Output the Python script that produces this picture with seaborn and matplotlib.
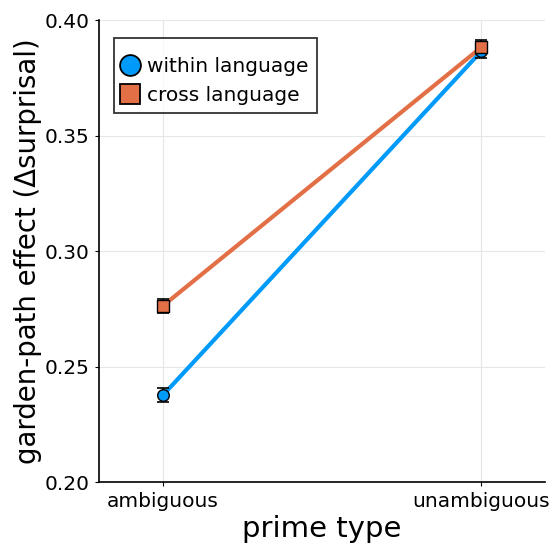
import matplotlib
matplotlib.use("Agg")
import matplotlib.pyplot as plt
from matplotlib.lines import Line2D
import seaborn as sns
import pandas as pd

# prime conditions and measured garden-path effects
prime_types = ["ambiguous", "unambiguous"]
within_language = [0.2375, 0.3865]
cross_language = [0.2762, 0.3882]
within_err = [0.0030, 0.0030]
cross_err = [0.0030, 0.0030]

series_names = ["within language", "cross language"]
colors = {"within language": "#009AFA", "cross language": "#E26F46"}
marker_shapes = {"within language": "o", "cross language": "s"}

rows = []
for name, vals, errs in [("within language", within_language, within_err),
                         ("cross language", cross_language, cross_err)]:
    for i, (p, v, e) in enumerate(zip(prime_types, vals, errs)):
        rows.append({"series": name, "prime": p, "pos": i + 1, "value": v, "err": e})
df = pd.DataFrame(rows)

sns.set_style("white")
plt.rcParams["font.family"] = ["DejaVu Sans"]
plt.rcParams["text.color"] = "black"
plt.rcParams["axes.labelcolor"] = "black"
plt.rcParams["xtick.color"] = "black"
plt.rcParams["ytick.color"] = "black"

fig = plt.figure(figsize=(5.53, 5.48), dpi=100)
ax = fig.add_axes([0.179, 0.1204, 0.8065, 0.843])

sns.lineplot(data=df, x="pos", y="value", hue="series", hue_order=series_names,
             palette=colors, linewidth=3, legend=False, ax=ax, zorder=2)

for name in series_names:
    sub = df[df["series"] == name]
    ax.errorbar(sub["pos"], sub["value"], yerr=sub["err"], fmt="none",
                ecolor="black", elinewidth=1.2, capsize=4, capthick=1.2, zorder=3)
    ax.scatter(sub["pos"], sub["value"], marker=marker_shapes[name], s=70,
               color=colors[name], edgecolor="black", linewidth=1.0, zorder=4)

ax.set_xlim(0.8, 2.2)
ax.set_ylim(0.20, 0.40)
ax.set_xticks([1, 2])
ax.set_xticklabels(prime_types)
ax.set_yticks([0.20, 0.25, 0.30, 0.35, 0.40])
ax.set_yticklabels(["0.20", "0.25", "0.30", "0.35", "0.40"])
ax.tick_params(axis="both", labelsize=14.5, length=3, direction="out",
               left=True, bottom=True, pad=4)
ax.grid(True, color="#e6e6e6", linewidth=0.8)
ax.set_axisbelow(True)

for side in ["top", "right"]:
    ax.spines[side].set_visible(False)
for side in ["left", "bottom"]:
    ax.spines[side].set_color("black")
    ax.spines[side].set_linewidth(1.2)

ax.set_xlabel("prime type", fontsize=21, labelpad=3)
ax.set_ylabel("garden-path effect (Δsurprisal)", fontsize=19.8, labelpad=1.5)

handles = [Line2D([], [], linestyle="none", marker=marker_shapes[n], markersize=15,
                  markerfacecolor=colors[n], markeredgecolor="black",
                  markeredgewidth=1.3, label=n) for n in series_names]
leg = ax.legend(handles=handles, loc="upper left", bbox_to_anchor=(0.02, 0.975),
                fontsize=14.5, frameon=True, fancybox=False, edgecolor="black",
                handlelength=0.8, handletextpad=0.45, borderpad=0.4,
                labelspacing=0.5, borderaxespad=0.3,
                title=" ", title_fontsize=1)
leg.get_frame().set_linewidth(1.3)

fig.savefig("out.png", dpi=100)
